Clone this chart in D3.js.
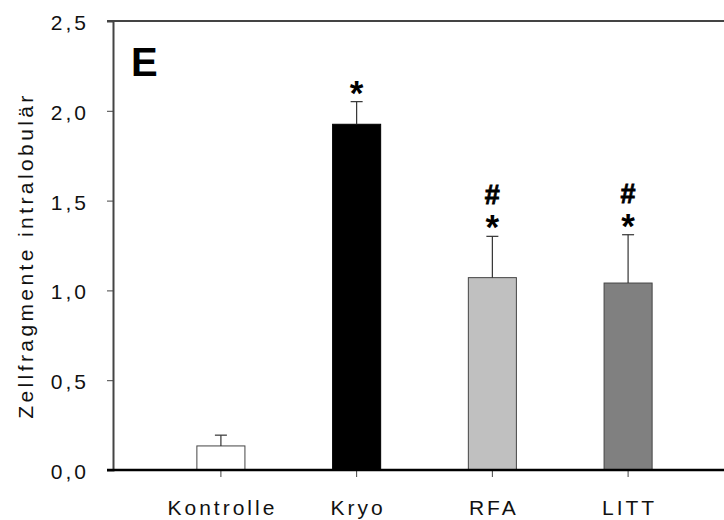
<!DOCTYPE html>
<html>

<head>
  <meta charset="utf-8">
  <title>zellfragmente</title>
  <style>
    * {
      padding: 0;
      margin: 0;
    }

    body {
      background: #fff;
      font-family: "Liberation Sans", Arial, sans-serif;
    }
  </style>
</head>

<body>
  <svg id="svg"></svg>
  <script src="https://cdnjs.cloudflare.com/ajax/libs/d3/7.8.5/d3.min.js"></script>
  <script>
    // data
    const groups = ['Kontrolle', 'Kryo', 'RFA', 'LITT'];
    const means = [0.134, 1.925, 1.071, 1.041];
    const sems = [0.06, 0.126, 0.23, 0.269];
    const starMarks = [false, true, true, true];
    const hashMarks = [false, false, true, true];
    const fills = ['#ffffff', '#000000', '#c0c0c0', '#808080'];
    const yTicks = [0, 0.5, 1, 1.5, 2, 2.5];
    const yLabel = 'Zellfragmente intralobulär';
    const panel = 'E';

    const dimension = {
      width: 724,
      height: 520,
      margin: { top: 21, right: -12, bottom: 50, left: 113 }
    };

    const rows = groups.map((g, i) => ({ g, mean: means[i], sem: sems[i], star: starMarks[i], hash: hashMarks[i], fill: fills[i] }));

    const de = d3.formatLocale({ decimal: ',', thousands: '.', grouping: [3], currency: ['', '€'] });

    const svg = d3.select('#svg').attr('width', dimension.width).attr('height', dimension.height);

    const yScale = d3.scaleLinear()
      .domain([0, 2.5])
      .range([dimension.height - dimension.margin.bottom, dimension.margin.top]);

    const xScale = d3.scaleBand()
      .domain(groups)
      .range([dimension.margin.left, dimension.width - dimension.margin.right])
      .paddingInner(0.646)
      .paddingOuter(0.618);

    const y0 = yScale(0);

    // top frame line
    svg.append('line')
      .attr('x1', dimension.margin.left - 6).attr('x2', dimension.width)
      .attr('y1', yScale(2.5)).attr('y2', yScale(2.5))
      .attr('stroke', '#444').attr('stroke-width', 2);

    // y axis
    const yAxis = d3.axisLeft(yScale).tickValues(yTicks).tickSize(6).tickPadding(18).tickFormat(de.format('.1f'));
    const gy = svg.append('g')
      .attr('transform', `translate(${dimension.margin.left}, 0)`)
      .call(yAxis);
    gy.select('.domain').attr('stroke', '#444').attr('stroke-width', 2);
    gy.selectAll('.tick line').attr('stroke', '#444');
    gy.selectAll('.tick text')
      .attr('fill', '#111')
      .style('font-family', '"Liberation Sans", Arial, sans-serif')
      .style('font-size', '21px')
      .style('letter-spacing', '3px')
      .attr('dy', '0.4em');

    // bars
    svg.append('g')
      .selectAll('rect')
      .data(rows)
      .enter()
      .append('rect')
      .attr('x', d => xScale(d.g))
      .attr('y', d => yScale(d.mean))
      .attr('width', xScale.bandwidth())
      .attr('height', d => y0 - yScale(d.mean))
      .attr('fill', d => d.fill)
      .attr('stroke', d => d.fill === '#000000' ? '#000' : '#444')
      .attr('stroke-width', 1);

    // error bars (upper only)
    const err = svg.append('g').attr('stroke', '#333').attr('stroke-width', 1.2);
    rows.forEach(d => {
      const cx = xScale(d.g) + xScale.bandwidth() / 2;
      err.append('line')
        .attr('x1', cx).attr('x2', cx)
        .attr('y1', yScale(d.mean)).attr('y2', yScale(d.mean + d.sem));
      err.append('line')
        .attr('x1', cx - 6).attr('x2', cx + 6)
        .attr('y1', yScale(d.mean + d.sem)).attr('y2', yScale(d.mean + d.sem));
    });

    // significance marks
    const marks = svg.append('g').style('font-family', '"Liberation Sans", Arial, sans-serif').style('font-weight', 'bold');
    rows.forEach(d => {
      const cx = xScale(d.g) + xScale.bandwidth() / 2;
      const top = yScale(d.mean + d.sem);
      if (d.star) {
        marks.append('text')
          .attr('x', cx).attr('y', top + 3)
          .attr('text-anchor', 'middle')
          .style('font-size', '35px')
          .text('*');
      }
      if (d.hash) {
        marks.append('text')
          .attr('x', cx).attr('y', top - 32)
          .attr('text-anchor', 'middle')
          .style('font-size', '27px')
          .style('stroke', '#000')
          .style('stroke-width', 0.8)
          .text('#');
      }
    });

    // x axis
    const xAxis = d3.axisBottom(xScale).tickSize(6).tickPadding(24);
    const gx = svg.append('g')
      .attr('transform', `translate(0, ${y0})`)
      .call(xAxis);
    gx.select('.domain').remove();
    gx.selectAll('.tick line').attr('stroke', '#444').attr('transform', 'translate(0,1)');
    gx.selectAll('.tick text')
      .attr('fill', '#111')
      .style('font-family', '"Liberation Sans", Arial, sans-serif')
      .style('font-size', '21px')
      .style('letter-spacing', '3px')
      .attr('dx', '1.5px');

    svg.append('line')
      .attr('x1', dimension.margin.left - 6).attr('x2', dimension.width)
      .attr('y1', y0).attr('y2', y0)
      .attr('stroke', '#000').attr('stroke-width', 2.5);

    // y label
    svg.append('text')
      .attr('transform', `translate(33, ${(yScale(0) + yScale(2.5)) / 2 + 10}) rotate(-90)`)
      .attr('text-anchor', 'middle')
      .attr('fill', '#111')
      .style('font-size', '21px')
      .style('letter-spacing', '3.4px')
      .text(yLabel);

    // panel letter
    svg.append('text')
      .attr('x', 131).attr('y', 76)
      .style('font-size', '40px')
      .style('font-weight', 'bold')
      .text(panel);
  </script>
</body>

</html>
